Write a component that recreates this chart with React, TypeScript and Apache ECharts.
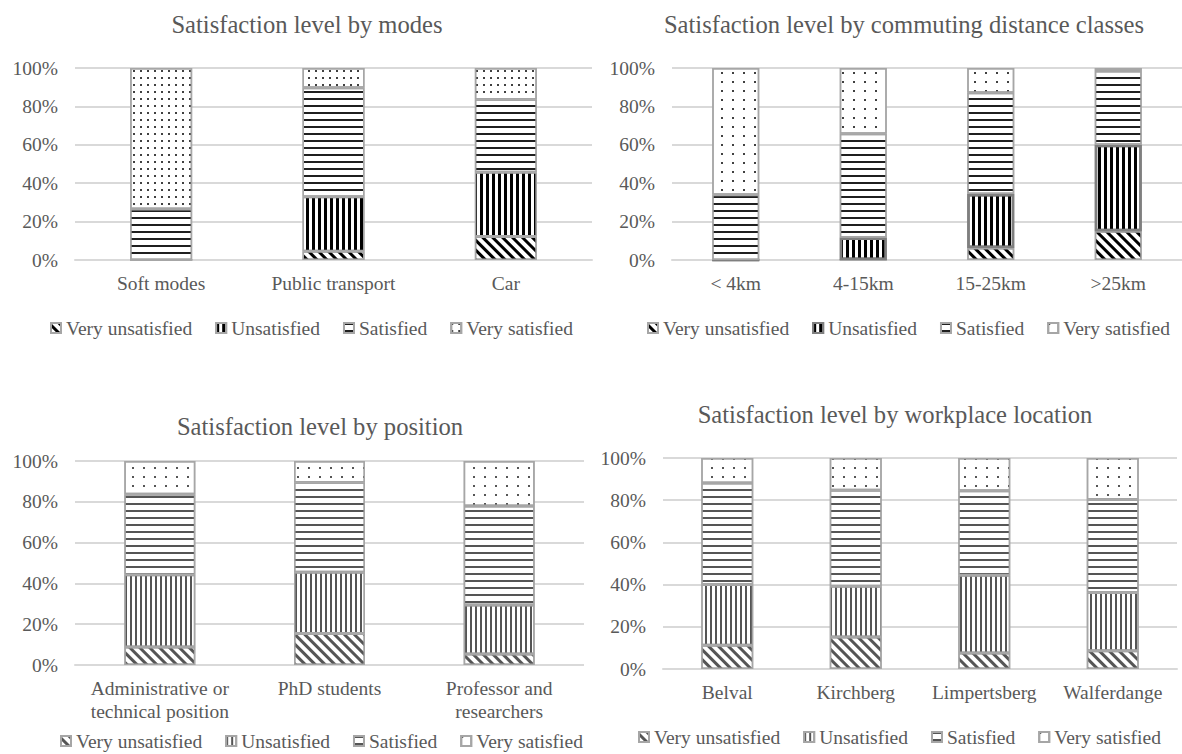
import React, { useEffect, useRef } from 'react';
import * as echarts from 'echarts';

// ---------- data ----------
const levelNames = ['Very unsatisfied', 'Unsatisfied', 'Satisfied', 'Very satisfied'];
const percentTickStep = 20;

const modesTitle = 'Satisfaction level by modes';
const modesCategories = ['Soft modes', 'Public transport', 'Car'];
const modesVeryUnsatisfied = [0, 4.5, 12.2];
const modesUnsatisfied = [0, 28.5, 33.5];
const modesSatisfied = [26.5, 56.7, 37.9];
const modesVerySatisfied = [73.5, 10.3, 16.4];

const distanceTitle = 'Satisfaction level by commuting distance classes';
const distanceCategories = ['< 4km', '4-15km', '15-25km', '>25km'];
const distanceVeryUnsatisfied = [0, 0, 6.2, 15.0];
const distanceUnsatisfied = [0, 11.7, 28.2, 45.0];
const distanceSatisfied = [34.0, 54.0, 52.7, 38.4];
const distanceVerySatisfied = [66.0, 34.3, 12.9, 1.6];

const positionTitle = 'Satisfaction level by position';
const positionCategories = ['Administrative or\ntechnical position', 'PhD students', 'Professor and\nresearchers'];
const positionVeryUnsatisfied = [8.8, 15.4, 5.4];
const positionUnsatisfied = [35.4, 30.1, 24.0];
const positionSatisfied = [39.5, 43.9, 48.5];
const positionVerySatisfied = [16.3, 10.6, 22.1];

const locationTitle = 'Satisfaction level by workplace location';
const locationCategories = ['Belval', 'Kirchberg', 'Limpertsberg', 'Walferdange'];
const locationVeryUnsatisfied = [11.2, 15.2, 7.6, 8.7];
const locationUnsatisfied = [28.8, 24.0, 36.8, 27.6];
const locationSatisfied = [48.2, 45.5, 40.1, 44.0];
const locationVerySatisfied = [11.8, 15.3, 15.5, 19.7];

// ---------- styles ----------
const FONT = 'Liberation Serif, Times New Roman, serif';
const TEXT = '#595959';
const GRID_LINE = '#d9d9d9';
const LABEL_SIZE = 19.5;
const TITLE_SIZE = 24.6;

function decal(color: string, dx: number[], dy: number[], rotation = 0) {
  return { symbol: 'rect', symbolSize: 1, color, dashArrayX: dx, dashArrayY: dy, rotation, maxTileWidth: 256, maxTileHeight: 256 };
}

const darkPatterns = [
  decal('#000000', [1, 0], [2.8, 3.2], Math.PI / 4),
  decal('#000000', [2.4, 2.6], [1, 0]),
  decal('#1f1f1f', [1, 0], [1.8, 4.2]),
  decal('#404040', [1.2, 4.8], [1.2, 4.8]),
];
const darkPatterns2 = [
  decal('#000000', [1, 0], [2.8, 3.2], Math.PI / 4),
  decal('#000000', [2.4, 3], [1, 0]),
  decal('#1f1f1f', [1, 0], [1.8, 4.2]),
  decal('#404040', [1.2, 8.8], [1.2, 7]),
];
const grayPatterns = [
  decal('#555555', [1, 0], [2.4, 3.6], Math.PI / 4),
  decal('#555555', [1.6, 2.4], [1, 0]),
  decal('#555555', [1, 0], [1.5, 5]),
  decal('#555555', [1.2, 8.3], [1.2, 6.3]),
];

type Box = { left: number; top: number; width: number; height: number };
type Cfg = {
  title: string;
  titleX: number;
  titleY: number;
  categories: string[];
  values: number[][];
  grid: Box;
  barWidth: number;
  legendLeft: number;
  legendTop: number;
  patterns: any[];
  borders: { color: string; width: number }[];
};

function buildOption(c: Cfg): any {
  return {
    animation: false,
    textStyle: { fontFamily: FONT },
    graphic: [
      {
        type: 'text',
        x: c.titleX,
        y: c.titleY,
        style: {
          text: c.title,
          fill: TEXT,
          font: TITLE_SIZE + 'px ' + FONT,
          align: 'center',
          verticalAlign: 'middle',
        },
      },
    ],
    legend: {
      data: levelNames,
      left: c.legendLeft,
      top: c.legendTop,
      width: 700,
      padding: 0,
      icon: 'rect',
      itemWidth: 10,
      itemHeight: 10,
      itemGap: 23,
      selectedMode: false,
      textStyle: { color: TEXT, fontSize: LABEL_SIZE, fontFamily: FONT },
    },
    grid: { ...c.grid, containLabel: false },
    xAxis: {
      type: 'category',
      data: c.categories,
      axisTick: { show: false },
      axisLine: { lineStyle: { color: GRID_LINE, width: 2 } },
      axisLabel: { color: TEXT, fontSize: LABEL_SIZE, fontFamily: FONT, margin: 12, lineHeight: 23, interval: 0 },
    },
    yAxis: {
      type: 'value',
      min: 0,
      max: 100,
      interval: percentTickStep,
      axisLine: { show: false },
      axisTick: { show: false },
      splitLine: { lineStyle: { color: GRID_LINE, width: 2 } },
      axisLabel: { color: TEXT, fontSize: LABEL_SIZE, fontFamily: FONT, margin: 17, formatter: '{value}%' },
    },
    series: levelNames.map((name, i) => ({
      name,
      type: 'bar',
      stack: 'total',
      barWidth: c.barWidth,
      data: c.values[i],
      emphasis: { disabled: true },
      itemStyle: {
        color: '#ffffff',
        borderColor: c.borders[i].color,
        borderWidth: c.borders[i].width,
        decal: c.patterns[i],
      },
    })),
  };
}

const lightBorders = [
  { color: '#a6a6a6', width: 1.5 },
  { color: '#a6a6a6', width: 1.5 },
  { color: '#a6a6a6', width: 1.5 },
  { color: '#a6a6a6', width: 1.5 },
];
const distanceBorders = [
  { color: '#a6a6a6', width: 1.5 },
  { color: '#7f7f7f', width: 2.5 },
  { color: '#a6a6a6', width: 1.5 },
  { color: '#a6a6a6', width: 1.5 },
];

const charts: { box: Box; cfg: Cfg }[] = [
  {
    box: { left: 0, top: 0, width: 600, height: 377 },
    cfg: {
      title: modesTitle,
      titleX: 307,
      titleY: 24,
      categories: modesCategories,
      values: [modesVeryUnsatisfied, modesUnsatisfied, modesSatisfied, modesVerySatisfied],
      grid: { left: 75, top: 68, width: 517, height: 192 },
      barWidth: 62,
      legendLeft: 50,
      legendTop: 318,
      patterns: darkPatterns,
      borders: lightBorders,
    },
  },
  {
    box: { left: 600, top: 0, width: 582, height: 377 },
    cfg: {
      title: distanceTitle,
      titleX: 304,
      titleY: 24,
      categories: distanceCategories,
      values: [distanceVeryUnsatisfied, distanceUnsatisfied, distanceSatisfied, distanceVerySatisfied],
      grid: { left: 72, top: 68, width: 515, height: 192 },
      barWidth: 47,
      legendLeft: 47,
      legendTop: 318,
      patterns: darkPatterns2,
      borders: distanceBorders,
    },
  },
  {
    box: { left: 0, top: 377, width: 584, height: 377 },
    cfg: {
      title: positionTitle,
      titleX: 320,
      titleY: 49,
      categories: positionCategories,
      values: [positionVeryUnsatisfied, positionUnsatisfied, positionSatisfied, positionVerySatisfied],
      grid: { left: 75, top: 84, width: 538, height: 204 },
      barWidth: 71,
      legendLeft: 60,
      legendTop: 354,
      patterns: grayPatterns,
      borders: lightBorders,
    },
  },
  {
    box: { left: 590, top: 377, width: 592, height: 377 },
    cfg: {
      title: locationTitle,
      titleX: 305,
      titleY: 37,
      categories: locationCategories,
      values: [locationVeryUnsatisfied, locationUnsatisfied, locationSatisfied, locationVerySatisfied],
      grid: { left: 73, top: 81, width: 514, height: 211 },
      barWidth: 52,
      legendLeft: 48,
      legendTop: 350,
      patterns: grayPatterns,
      borders: lightBorders,
    },
  },
];

function Chart({ box, cfg }: { box: Box; cfg: Cfg }) {
  const ref = useRef<HTMLDivElement>(null);
  useEffect(() => {
    if (!ref.current) return;
    const chart = echarts.init(ref.current, undefined, { renderer: 'svg' });
    chart.setOption(buildOption(cfg));
    return () => chart.dispose();
  }, []);
  return (
    <div
      ref={ref}
      style={{
        position: 'absolute',
        left: box.left,
        top: box.top,
        width: box.width,
        height: box.height,
        overflow: 'hidden',
        fontFamily: FONT,
      }}
    />
  );
}

export default function App() {
  return (
    <div style={{ position: 'absolute', left: 0, top: 0, width: 1182, height: 754, background: '#ffffff', overflow: 'hidden' }}>
      {charts.map((c, i) => (
        <Chart key={i} box={c.box} cfg={c.cfg} />
      ))}
    </div>
  );
}
